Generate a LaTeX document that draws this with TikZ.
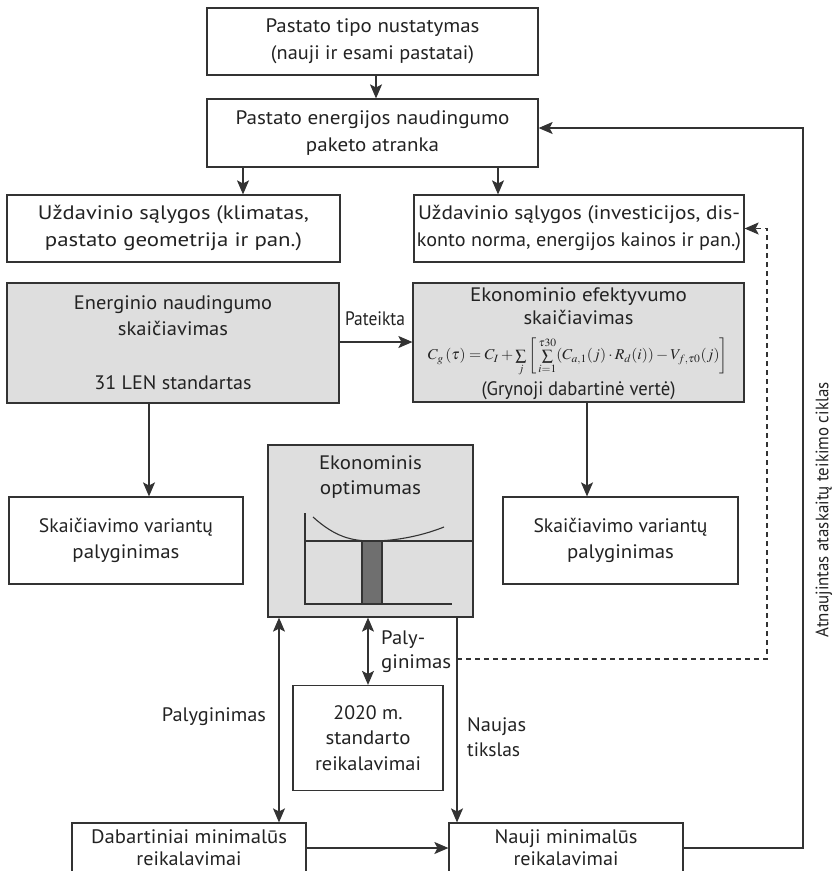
\documentclass[tikz,border=0pt]{standalone}
\usepackage{amsmath}
\usepackage{mathptmx}
\usepackage{graphicx}
\usepackage{fontspec}
\setmainfont{PT Sans}
\usetikzlibrary{arrows.meta,calc}
\newcommand{\fw}[2]{\resizebox{#1pt}{\height}{#2}}
\definecolor{ln}{HTML}{333333}
\definecolor{gfill}{HTML}{DEDEDE}
\definecolor{barc}{HTML}{6F6F6F}
\definecolor{txt}{HTML}{222222}
\tikzset{
  box/.style={draw=ln,line width=1.2pt,fill=white,inner sep=0pt,align=center,text=txt,font=\fontsize{19.5}{27}\selectfont},
  gbox/.style={box,fill=gfill},
  tip/.tip={Stealth[length=14pt,width=12pt,inset=3pt]},
  arr/.style={draw=ln,line width=1.1pt,-tip},
  darr/.style={draw=ln,line width=1.1pt,tip-tip},
  plain/.style={draw=ln,line width=1.1pt},
  lbl/.style={text=txt,font=\fontsize{19.5}{26}\selectfont,inner sep=0pt,align=left},
}
\begin{document}
\begin{tikzpicture}[x=1pt,y=-1pt]
\useasboundingbox (0,0) rectangle (834,871);
\clip (0,0) rectangle (834,871);
% boxes
\node[box,minimum width=331pt,minimum height=67pt] (b1) at (372.5,41.5) {\fw{214}{Pastato tipo nustatymas}\\\fw{203}{(nauji ir esami pastatai)}};
\node[box,minimum width=331pt,minimum height=68pt] (b2) at (372.5,133) {\fw{274}{Pastato energijos naudingumo}\\\fw{133}{paketo atranka}};
\node[box,minimum width=333pt,minimum height=67pt] (b3) at (173.5,228.5) {\fw{271}{Uždavinio sąlygos (klimatas,}\\\fw{257}{pastato geometrija ir pan.)}};
\node[box,minimum width=330pt,minimum height=67pt] (b4) at (579,228.5) {\fw{322}{Uždavinio sąlygos (investicijos, dis-}\\\fw{324}{konto norma, energijos kainos ir pan.)}};
\node[gbox,minimum width=332pt,minimum height=120pt] (b5) at (173,343) {\fw{198}{Energinio naudingumo}\\[-1pt]\fw{110}{skaičiavimas}\\\mbox{}\\\fw{157}{31 LEN standartas}};
\node[gbox,minimum width=331pt,minimum height=119pt] (b6) at (578.5,342.5) {};
\node[lbl,align=center,font=\fontsize{19.5}{23}\selectfont] at (578.5,306) {\fw{217}{Ekonominio efektyvumo}\\\fw{110}{skaičiavimas}};
\node[inner sep=0pt,text=txt,font=\fontsize{15}{16}\selectfont] at (578,357) {\fw{300}{$C_g\left(\tau\right)=C_I+\sum\limits_j\bigg[\sum\limits_{i=1}^{\tau 30}(C_{a,1}(j)\cdot R_d(i))-V_{f,\tau 0}(j)\bigg]$}};
\node[lbl] at (578.5,391) {\fw{194}{(Grynoji dabartinė vertė)}};
\node[box,minimum width=234pt,minimum height=87pt] (b7) at (126,540.5) {\fw{174}{Skaičiavimo variantų}\\[-1pt]\fw{107}{palyginimas}};
\node[box,minimum width=235pt,minimum height=87pt] (b9) at (620.5,540.5) {\fw{174}{Skaičiavimo variantų}\\[-1pt]\fw{107}{palyginimas}};
\node[gbox,minimum width=205pt,minimum height=172pt] (b8) at (370.5,531) {};
\node[lbl,align=center,font=\fontsize{19.5}{25}\selectfont] at (370.5,477.5) {\fw{103}{Ekonominis}\\\fw{101}{optimumas}};
\node[box,minimum width=150pt,minimum height=105pt,font=\fontsize{19.5}{25.5}\selectfont] (s20) at (368,738) {\fw{69}{2020 m.}\\\fw{85}{standarto}\\\fw{106}{reikalavimai}};
\node[box,minimum width=234pt,minimum height=50pt,font=\fontsize{19.5}{22}\selectfont] (dab) at (189,848) {\fw{196}{Dabartiniai minimalūs}\\\fw{105}{reikalavimai}};
\node[box,minimum width=234pt,minimum height=50pt,font=\fontsize{19.5}{22}\selectfont] (nau) at (566,848) {\fw{143}{Nauji minimalūs}\\\fw{105}{reikalavimai}};
% chart
\draw[plain] (305,513) -- (305,604) -- (452,604);
\draw[plain] (305,541) -- (b8.east |- 305,541);
\draw[plain,fill=barc] (362,541) rectangle (382,604);
\draw[plain] (313,517) .. controls (335,537) and (352,541) .. (372,541) .. controls (398,541) and (424,535) .. (444,527);
% coordinates
\coordinate (xa) at (243,0);
\coordinate (xb) at (498,0);
\coordinate (xc) at (149,0);
\coordinate (xd) at (587,0);
\coordinate (xe) at (279,0);
\coordinate (xf) at (457,0);
\coordinate (d0) at (457,659);
\coordinate (dc) at (767,228.5);
\coordinate (fc) at (803,0);
% connectors
\draw[arr] (b1.south -| 376,0) -- (b2.north -| 376,0);
\draw[arr] (b2.south -| xa) -- (b3.north -| xa);
\draw[arr] (b2.south -| xb) -- (b4.north -| xb);
\draw[arr] (b5.east |- 0,342) -- (b6.west |- 0,342);
\node[lbl] at (375,319) {\fw{60}{Pateikta}};
\draw[arr] (b5.south -| xc) -- (b7.north -| xc);
\draw[arr] (b6.south -| xd) -- (b9.north -| xd);
\draw[darr] (b8.south -| xe) -- (dab.north -| xe);
\node[lbl] at (214,717) {\fw{104}{Palyginimas}};
\draw[darr] (b8.south -| s20.north) -- (s20.north);
\node[lbl,anchor=west,font=\fontsize{19.5}{24}\selectfont] at (381,652) {\fw{44}{Paly-}\\\fw{70}{ginimas}};
\draw[arr] (b8.south -| xf) -- (nau.north -| xf);
\node[lbl,anchor=west,font=\fontsize{19.5}{25}\selectfont] at (467,737.5) {\fw{59}{Naujas}\\\fw{53}{tikslas}};
\draw[arr,dash pattern=on 5pt off 4pt] (d0) -| (dc) -- (b4.east);
\draw[arr] (dab.east) -- (nau.west);
\draw[arr] (nau.east) -| (fc |- 0,128) -- (b2.east |- 0,128);
\node[lbl,rotate=90,font=\fontsize{18}{20}\selectfont] at (824,510) {\fw{255}{Atnaujintas ataskaitų teikimo ciklas}};
\end{tikzpicture}
\end{document}
